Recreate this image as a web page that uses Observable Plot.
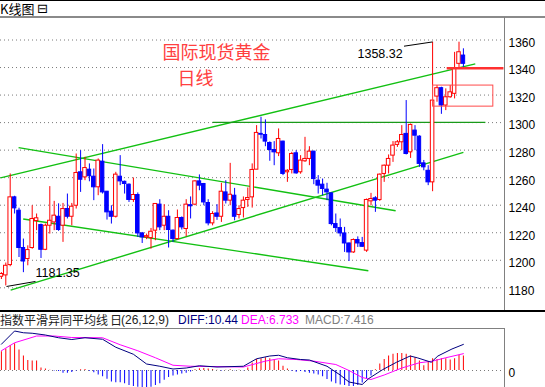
<!DOCTYPE html>
<html><head><meta charset="utf-8">
<script src="https://cdn.jsdelivr.net/npm/d3@7"></script>
<script src="https://cdn.jsdelivr.net/npm/@observablehq/plot@0.6"></script>
<style>
body{margin:0;background:#fff;}
#wrap{position:relative;width:545px;height:387px;overflow:hidden;background:#fff;font-family:"Liberation Sans",Arial,sans-serif;}
#wrap>div{position:absolute;}
#main{left:0;top:0;width:545px;height:311px;}
#macd{left:0;top:328px;width:545px;height:59px;}
#main svg,#macd svg{max-width:none;display:block;}
#topline{left:0;top:0;width:545px;height:1px;background:#000;}
#title{left:0;top:1px;font:13px "Noto Sans CJK SC",sans-serif;line-height:15px;color:#000;}
#icon{left:37px;top:1px;font:13px "DejaVu Sans",sans-serif;line-height:15px;color:#000;}
#hline{left:0;top:16px;width:545px;height:2px;background:#8a8a8a;}
#vaxis{left:504px;top:17px;width:1px;height:294px;background:#808080;}
#sep{left:0;top:310px;width:545px;height:2px;background:#000;}
#head{left:0;top:313px;height:14px;width:545px;font-size:12px;line-height:14px;white-space:nowrap;}
#head span{position:absolute;top:0;}
#box{left:0;top:328px;width:504px;height:70px;border-top:1px solid #808080;border-right:1px solid #808080;}
</style></head><body>
<div id="wrap">
  <div id="main"></div>
  <div id="macd"></div>
  <div id="topline"></div>
  <div id="title">K线图</div><div id="icon">⊟</div>
  <div id="hline"></div>
  <div id="vaxis"></div>
  <div id="sep"></div>
  <div id="box"></div>
  <div id="head">
    <span style="left:0;font-family:'Noto Sans CJK SC';color:#222">指数平滑异同平均线</span>
    <span style="left:110px;font-family:'Noto Sans CJK SC';color:#222">日</span>
    <span style="left:121px;color:#222">(26,12,9)</span>
    <span style="left:178px;color:#000080">DIFF:10.44</span>
    <span style="left:241px;color:#ff00ff">DEA:6.733</span>
    <span style="left:305px;color:#808080">MACD:7.416</span>
  </div>
</div>
<script>
// ---- candle data (daily gold), index 1..106 ----
const openP = [1188,1189,1196.5,1245.7,1236,1208.9,1200.9,1208.9,1228.5,1225.6,
1207.6,1225.1,1227.5,1231.6,1225.1,1237.2,1231.6,1239.6,1263.9,1260.2,
1265.8,1260.7,1253,1271.6,1249.8,1235.3,1231.6,1260.7,1257,1254.9,
1243.8,1247.4,1219.5,1216.6,1216.1,1221.5,1240.4,1225.1,1231.6,1221.5,
1215.4,1230.7,1222.7,1240,1240.4,1257.3,1255.4,1241.6,1226.8,1234,
1231.6,1249.3,1243.3,1246.9,1232.9,1237.9,1243.8,1245.7,1265.8,1291.8,
1291,1285.2,1280.1,1277.7,1286.2,1263.9,1265.6,1277.7,1263.9,1271.9,
1273.6,1278.9,1257.8,1254.9,1251.3,1248.6,1226.3,1223.4,1219.5,1212.2,
1205.7,1214.7,1212.5,1207,1242.8,1245,1243.8,1262.7,1268.7,1276,
1283.8,1285.7,1291.8,1278.4,1294.2,1289.8,1270.4,1265,1256.6,1318.9,
1325,1312.4,1318.4,1320.9,1342.7,1348.7];
const highP = [1191,1198,1262.7,1246.5,1237.8,1215.4,1210.5,1239.6,1233.6,1226.3,
1226.3,1253.5,1242.8,1241,1241.3,1248.1,1241.3,1277.2,1279.6,1274.8,
1270,1266.3,1273.6,1284,1250,1239.6,1263.9,1276,1257.5,1255.5,
1259.8,1248.9,1220.2,1219,1223.1,1241,1244,1240.4,1236,1222,
1236.5,1231.5,1244,1246,1257.8,1262,1255.8,1244,1235.3,1240.4,
1255.9,1257.8,1270.4,1252.2,1239.6,1246,1252.5,1270,1297.8,1303.9,
1302,1286,1286.2,1295.4,1286.5,1265.8,1278.4,1279.6,1276,1289.3,
1282.5,1279.2,1261.5,1259,1255.9,1248.8,1233.6,1230,1223.9,1212.5,
1215.5,1217,1216.6,1244.5,1248.6,1246.2,1262.7,1269.2,1276.5,1286.2,
1287,1297.8,1316,1299,1297.8,1290.5,1272.5,1268.7,1358.32,1326.9,
1325.7,1324.5,1326.9,1351,1358.4,1353.6];
const lowP = [1186,1181.35,1195.3,1233.6,1202,1191,1196,1208,1221.5,1201.3,
1207,1219,1221.5,1221,1213,1230,1225,1237.2,1249.3,1257.8,
1257,1243.3,1246.9,1248.1,1229.2,1226.3,1230.7,1254.2,1248.1,1242,
1242,1216.6,1212.2,1215,1208.1,1214.2,1221.5,1221.5,1208.9,1213,
1214.7,1222,1217,1230,1239.6,1250.5,1239.6,1225,1225,1229,
1227.5,1240.9,1239.6,1228.7,1230,1230.7,1238.4,1237.9,1265.8,1288.1,
1282.5,1271.9,1268.7,1275.3,1261.5,1256.6,1262.7,1262.5,1262.5,1271.1,
1268.7,1254.9,1248.1,1246.9,1243.3,1225,1220.2,1217,1205.7,1199.1,
1205,1209.3,1209.3,1205.7,1239.6,1234.8,1242.8,1256.6,1262.7,1271.1,
1282,1279.6,1276.5,1274,1279.6,1267.5,1265,1254.2,1249.8,1314.8,
1306,1308.7,1317.7,1317.2,1339,1340.2];
const closeP = [1190,1196,1245.7,1237.7,1208.9,1199.1,1207.4,1230,1230.5,1207.6,
1225.1,1228.7,1232.4,1222,1237.2,1231.6,1238.9,1263.4,1258.5,1267,
1261,1253,1272.4,1249.3,1234.8,1231.6,1262.2,1257.3,1255.4,1243.8,
1247.4,1219.5,1216.6,1217.5,1220.7,1240.9,1223.9,1231.6,1222,1215.4,
1230.7,1223.9,1240.4,1239.2,1257.3,1254.2,1242,1226.8,1233.6,1231.6,
1249.8,1243.3,1247.6,1231.6,1237.2,1243.3,1245.2,1265.6,1292.5,1291.2,
1286.2,1280.1,1278.4,1288.1,1262.7,1265,1277.2,1263.1,1272.4,1273.6,
1278.9,1259,1254.2,1251.8,1249.3,1226.3,1223.4,1219.5,1212.2,1205.7,
1214.7,1212.2,1209.8,1243.8,1244.5,1243.3,1262.2,1268.7,1273.6,1283.3,
1285.7,1291,1277.2,1298.3,1290.5,1270,1267.5,1256.6,1316,1325,
1312.4,1318.4,1322,1339,1351.1,1342.7];
const yTicks = [1180,1200,1220,1240,1260,1280,1300,1320,1340,1360];

// trend lines [startIndex, startPrice, endIndex, endPrice]
const greenLines = [
  [0.8,1259.8,108.7,1342.7],
  [4.9,1281.8,90.6,1236],
  [5.95,1230,84.4,1192.4],
  [3.1,1178.3,106,1278.4]
];
const levelLine = [49,1300.2,111,1300.2];
const redLevel = [102.2,1339.5,115.1,1339.5];
const redBox = [99.1,1326.9,112.8,1311.6];
const lowNote = {text:"1181.35", line:[2.16,1180.95,8.75,1184.6], at:[8.75,1190.5]};
const highNote = {text:"1358.32", line:[92.5,1355.5,99,1358.6], at:[92.2,1349.5]};
const titleLines = ["国际现货黄金","日线"];
const titleAt = [[49.9,1350.2],[45.1,1331.3]];

// ---- MACD (26,12,9) ----
const histVals = [7.5,8.6,10,10.7,8.2,5.8,4.0,3.8,3.8,1.0,
0.6,0.1,-0.2,-0.4,-1.1,-1.1,-0.8,-0.2,0.3,0.4,
-0.3,-0.9,-1.8,-2.5,-3.5,-4.6,-4.9,-4.9,-5.3,-6.0,
-6.4,-6.7,-6.9,-7.4,-6.7,-6.0,-5.3,-3.9,-2.8,-2.2,
-1.8,-1.4,-1.1,-0.6,0.3,0.7,0.8,0.6,0.4,0.1,
-0.2,0.1,0.3,-0.1,0.1,-0.1,1.0,3.0,4.4,4.7,
5.1,4.7,4.2,3.8,1.7,0.6,-0.3,-0.7,-0.4,-0.8,
-1.1,-1.4,-1.8,-2.5,-3.6,-4.6,-5.3,-5.8,-6.0,-6.4,
-6.4,-6.0,-5.0,-3.2,-2.2,0.3,2.6,4.4,5.8,6.5,
6.8,6.8,6.5,5.8,5.1,3.8,1.9,3.3,4.7,4.4,
4.7,4.7,4.2,4.7,6.1,5.8];
const diffIdx = [1,4,6,8,11,14,17,20,24,27,31,34,37,40,43,46,50,56,59,62,64,66,69,71,75,78,80,83,84.5,87.6,90.8,93.9,95.5,98.7,100.2,103.4,106];
const diffVals = [10.5,15.8,15.1,14.9,14.2,13.1,12.4,13.1,12.5,9.3,6.5,2.6,1.7,0.6,1.0,1.9,1.4,1.7,4.7,5.8,6.1,5.1,4.4,4.2,1.7,-1.8,-4.6,-5.6,-3.2,0.3,3.3,5.8,5.1,3.3,5.8,8.6,10.44];
const deaIdx = [1,4,9,13,17,24,28,32,36,40,44,56,61,64,68,72,77,80,83,85,88,92,96,99,102,106];
const deaVals = [7.9,11.1,13.8,13.8,13.2,13.1,10.3,7.9,5.1,2.1,1.7,1.4,3.75,4.7,4.4,3.75,2.4,0,-2.8,-3.6,-1.8,1.0,3.1,3.75,5.1,6.733];

const RED = "#ff0000", BLUE = "#0000ff", GREEN = "#12c012";
const candles = openP.map((o,k)=>({i:k+1,o,h:highP[k],l:lowP[k],c:closeP[k]}));
const ups = candles.filter(d=>d.c>=d.o), downs = candles.filter(d=>d.c<d.o);
const xOpt = {domain:[1,106], range:[0.9,462.9], axis:null};
const seg = a => ({x1:a[0],y1:a[1],x2:a[2],y2:a[3]});
const bw = 0.4;
const svgStyle = {background:"transparent", overflow:"visible", maxWidth:"none", fontFamily:"Liberation Sans, Arial, sans-serif"};
const fmt = d => String(d);

const mainChart = Plot.plot({
  width:545, height:311, marginTop:17, marginRight:41, marginBottom:0, marginLeft:0,
  x:xOpt,
  y:{domain:[1180,1360], range:[287.3,39.5], axis:null},
  style:svgStyle,
  marks:[
    Plot.gridY(yTicks,{stroke:"#7a7a7a", strokeOpacity:1, strokeDasharray:"1,3"}),
    Plot.axisY(yTicks,{anchor:"right", tickSize:0, tickPadding:4, dy:3, fontSize:12, fill:"#000", label:null, textAnchor:"start", tickFormat:fmt}),
    Plot.link(greenLines.map(seg),{x1:"x1",y1:"y1",x2:"x2",y2:"y2",stroke:GREEN,strokeWidth:1.4}),
    Plot.link([seg(levelLine)],{x1:"x1",y1:"y1",x2:"x2",y2:"y2",stroke:"#1a9a1a",strokeWidth:1.2}),
    Plot.ruleX(ups,{x:"i",y1:"l",y2:"h",stroke:RED,strokeWidth:1}),
    Plot.ruleX(downs,{x:"i",y1:"l",y2:"h",stroke:BLUE,strokeWidth:1}),
    Plot.rect(ups,{x1:d=>d.i-bw,x2:d=>d.i+bw,y1:"o",y2:"c",fill:"#fff",stroke:RED,strokeWidth:1}),
    Plot.rect(downs,{x1:d=>d.i-bw,x2:d=>d.i+bw,y1:"o",y2:"c",fill:BLUE,stroke:BLUE,strokeWidth:1}),
    Plot.link([seg(redLevel)],{x1:"x1",y1:"y1",x2:"x2",y2:"y2",stroke:"#ff3030",strokeWidth:2.5}),
    Plot.rect([seg(redBox)],{x1:"x1",y1:"y1",x2:"x2",y2:"y2",fill:"none",stroke:"#ff4a4a",strokeWidth:1}),
    Plot.link([seg(lowNote.line), seg(highNote.line)],{x1:"x1",y1:"y1",x2:"x2",y2:"y2",stroke:"#000",strokeWidth:1}),
    Plot.text([lowNote],{x:d=>d.at[0],y:d=>d.at[1],text:"text",textAnchor:"start",fontSize:12.5,fill:"#000"}),
    Plot.text([highNote],{x:d=>d.at[0],y:d=>d.at[1],text:"text",textAnchor:"end",fontSize:12.5,fill:"#000"}),
    Plot.text(titleLines,{x:(d,k)=>titleAt[k][0],y:(d,k)=>titleAt[k][1],text:d=>d,fontSize:18,fill:"#ff4040",fontFamily:"Noto Sans CJK SC"})
  ]
});
document.getElementById("main").appendChild(mainChart);

const hist = histVals.map((v,k)=>({i:k+1,v}));
const diff = diffIdx.map((i,k)=>({i,v:diffVals[k]}));
const dea = deaIdx.map((i,k)=>({i,v:deaVals[k]}));
const macdChart = Plot.plot({
  width:545, height:59, marginTop:0, marginRight:41, marginBottom:0, marginLeft:0,
  x:xOpt,
  y:{domain:[-10,10], range:[67,17], axis:null},
  style:svgStyle,
  marks:[
    Plot.ruleY([0],{stroke:"#7a7a7a",strokeDasharray:"1,3"}),
    Plot.axisY([0],{anchor:"right", tickSize:0, tickPadding:4, dy:3, fontSize:12, fill:"#000", label:null, textAnchor:"start", tickFormat:fmt}),
    Plot.ruleX(hist.filter(d=>d.v>=0),{x:"i",y1:0,y2:"v",stroke:RED,strokeWidth:1}),
    Plot.ruleX(hist.filter(d=>d.v<0),{x:"i",y1:0,y2:"v",stroke:BLUE,strokeWidth:1}),
    Plot.line(dea,{x:"i",y:"v",stroke:"#ff00ff",strokeWidth:1}),
    Plot.line(diff,{x:"i",y:"v",stroke:"#000080",strokeWidth:1})
  ]
});
document.getElementById("macd").appendChild(macdChart);
</script>
</body></html>
